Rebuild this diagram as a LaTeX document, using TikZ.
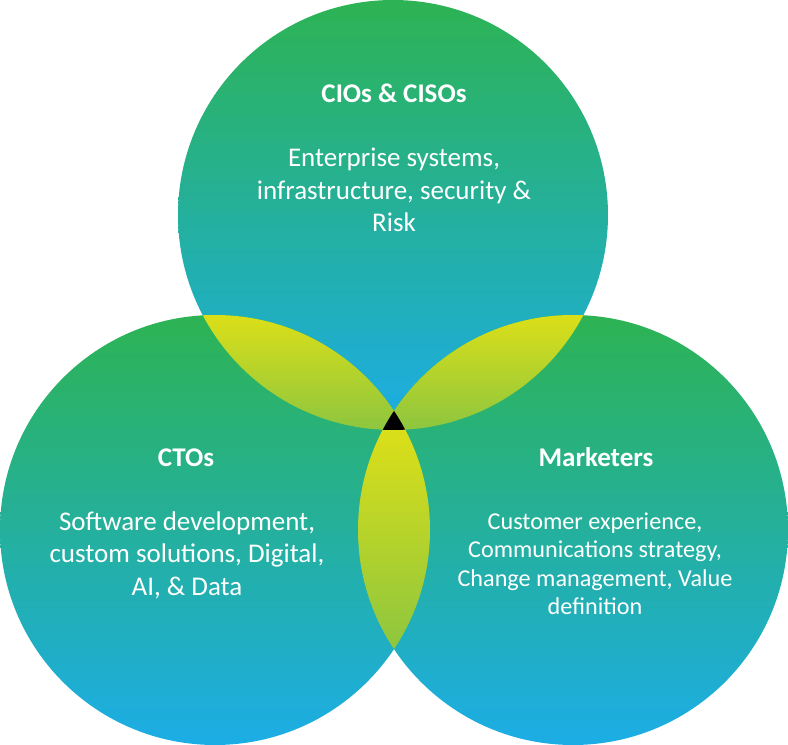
\documentclass[tikz,border=0pt]{standalone}
\usepackage{fontspec}
\setmainfont{Carlito}
\usetikzlibrary{positioning}

\definecolor{topgreen}{HTML}{2DB353}
\definecolor{botblue}{HTML}{1CADE6}
\definecolor{lensyellow}{HTML}{DCDF18}
\definecolor{lensgreen}{HTML}{8DC63F}

\begin{document}
\begin{tikzpicture}[x=1pt, y=1pt,
	circ/.style={top color=topgreen, bottom color=botblue},
	lens/.style={top color=lensyellow, bottom color=lensgreen},
	head/.style={text=white, font=\fontsize{27}{32}\selectfont\bfseries},
	body/.style={text=white, align=center, font=\fontsize{27}{32.5}\selectfont},
	smallbody/.style={text=white, align=center, font=\fontsize{24.2}{28.5}\selectfont}]
		\useasboundingbox (0,0) rectangle (788,745);
		
		% Circle centres
		\coordinate (cio) at (393,530);
		\coordinate (cto) at (215,215);
		\coordinate (mkt) at (573,215);
		
		% Draw circles
		\foreach \c in {cio,cto,mkt} {
			\shade[circ] (\c) circle (215);
		}
		
		% Overlaps
		\begin{scope}
			\clip (cio) circle (215);
			\clip (cto) circle (215);
			\shade[lens] (195,315) rectangle (415,431);
		\end{scope}
		\begin{scope}
			\clip (cio) circle (215);
			\clip (mkt) circle (215);
			\shade[lens] (375,315) rectangle (595,431);
		\end{scope}
		\begin{scope}
			\clip (cto) circle (215);
			\clip (mkt) circle (215);
			\shade[lens] (350,95) rectangle (436,318);
		\end{scope}
		
		% Centre
		\begin{scope}
			\clip (cio) circle (215);
			\clip (cto) circle (215);
			\fill[black] (mkt) circle (215);
		\end{scope}
		
		% Labels
		\node[head] (ciohead) at (394,652) {CIOs \& CISOs};
		\node[body] (ciotext) at (394,555) {Enterprise systems,\\infrastructure, security \&\\Risk};
		
		\node[head] (ctohead) at (186,287) {CTOs};
		\node[body] (ctotext) at (187,190) {Software development,\\custom solutions, Digital,\\AI, \& Data};
		
		\node[head] (mkthead) at (596,288) {Marketers};
		\node[smallbody] (mkttext) at (595,181) {Customer experience,\\Communications strategy,\\Change management, Value\\definition};
	\end{tikzpicture}
\end{document}
